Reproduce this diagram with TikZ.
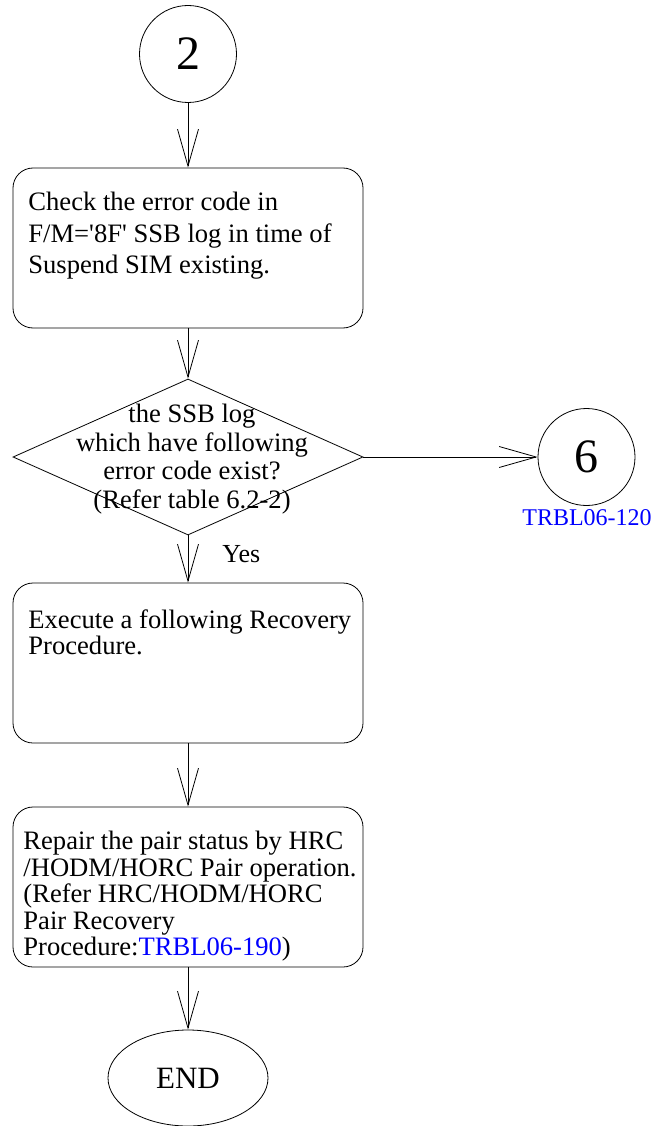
\documentclass[tikz,border=0pt]{standalone}
\usepackage{fontspec}
\setmainfont{Liberation Serif}
\usetikzlibrary{shapes.geometric,arrows.meta}
\begin{document}
\begin{tikzpicture}[x=1pt,y=-1pt,
  line width=0.8pt,
  box/.style={draw, rounded corners=20pt, minimum width=350pt, minimum height=160pt, inner sep=0pt},
  txt/.style={align=left, anchor=north west, inner sep=0pt, font=\fontsize{26.6}{26.4}\selectfont},
  conn/.style={circle, draw, minimum size=97pt, inner sep=0pt, font=\fontsize{48}{48}\selectfont},
  arr/.style={-{Straight Barb[length=37pt,width=21pt]}},
  link/.style={text=blue}
]
\useasboundingbox (0,0) rectangle (655,1126);
% start connector
\node[conn] (c2) at (188,54) {2};
% box 1
\node[box] (b1) at (188,248) {};
\node[txt, font=\fontsize{26.6}{31.5}\selectfont] (t1) at (28,192) {Check the error code in\\F/M=\textquotesingle 8F\textquotesingle{} SSB log in time of\\Suspend SIM existing.};
% decision
\node[diamond, draw, minimum width=350pt, minimum height=156pt, inner sep=0pt] (d) at (188,457) {};
\node[align=center, inner sep=0pt, font=\fontsize{26.6}{28.5}\selectfont] (dt) at (192,459) {the SSB log\\which have following\\error code exist?\\(Refer table 6.2-2)};
% connector 6
\node[conn] (c6) at (586.5,457) {6};
\node[anchor=base, inner sep=0pt, font=\fontsize{24}{24}\selectfont, link] (l6) at (587,525) {TRBL06-120};
% box 2
\node[box] (b2) at (188,663) {};
\node[txt] (t2) at (28,609) {Execute a following Recovery\\Procedure.};
\node[anchor=base west, inner sep=0pt, font=\fontsize{26}{26}\selectfont] (yes) at (222,562) {Yes};
% box 3
\node[box] (b3) at (188,887) {};
\node[txt] (t3) at (23,831) {Repair the pair status by HRC\\/HODM/HORC Pair operation.\\(Refer HRC/HODM/HORC\\Pair Recovery\\Procedure:\textcolor{blue}{TRBL06-190})};
% end
\node[ellipse, draw, minimum width=160pt, minimum height=96pt, inner sep=0pt, font=\fontsize{31}{31}\selectfont] (e) at (188,1078) {END};
% connectors
\draw[arr] (c2.south) -- (b1.north);
\draw[arr] (b1.south) -- (d.north);
\draw[arr] (d.east) -- (c6.west);
\draw[arr] (d.south) -- (b2.north);
\draw[arr] (b2.south) -- (b3.north);
\draw[arr] (b3.south) -- (e.north);
\end{tikzpicture}
\end{document}
